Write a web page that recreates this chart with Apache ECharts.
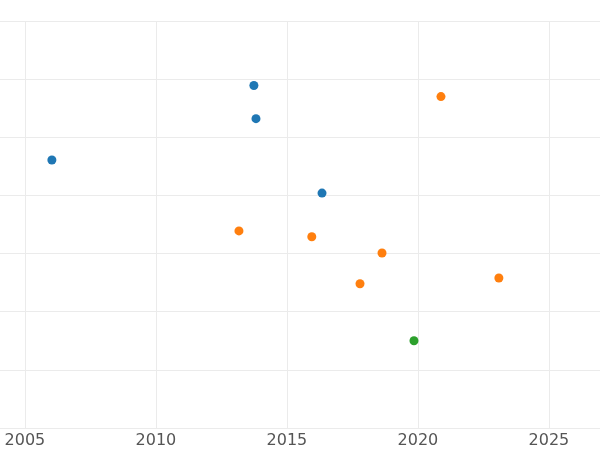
<!DOCTYPE html>
<html>
<head>
<meta charset="utf-8">
<script src="https://cdn.jsdelivr.net/npm/echarts@6/dist/echarts.min.js"></script>
<style>html,body{margin:0;padding:0;background:#fff}#main{width:600px;height:450px}</style>
</head>
<body>
<div id="main"></div>
<script>
// data (y has no labels, unit = one grid step)
var blueX = [2006.03, 2013.74, 2013.82, 2016.34];
var blueY = [4.61, 5.89, 5.32, 4.04];
var orangeX = [2020.88, 2013.17, 2015.95, 2018.63, 2017.79, 2023.09];
var orangeY = [5.70, 3.39, 3.29, 3.01, 2.48, 2.58];
var greenX = [2019.85];
var greenY = [1.50];
var yearTicks = [2005, 2010, 2015, 2020, 2025];

function pairs(xs, ys){
    var out = [];
    for(var i = 0; i < xs.length; i++){
        out.push([xs[i], ys[i]]);
    }
    return out;
}

function makeSeries(xs, ys, color){
    return {
        type: 'scatter',
        symbolSize: 9,
        itemStyle: {color: color, opacity: 1},
        data: pairs(xs, ys)
    };
}

var option = {
    animation: false,
    grid: {left: 0, right: 0, top: 21, bottom: 22},
    xAxis: {
        type: 'value',
        min: 2004.05,
        max: 2026.95,
        axisLine: {show: false},
        axisTick: {show: false, customValues: yearTicks},
        axisLabel: {customValues: yearTicks, color: '#555', fontSize: 16,
            fontFamily: 'DejaVu Sans', margin: 5,
            formatter: function(v){ return String(Math.round(v)); }},
        splitLine: {show: true, lineStyle: {color: '#ebebeb'}}
    },
    yAxis: {
        type: 'value',
        min: 0,
        max: 7,
        interval: 1,
        axisLine: {show: false},
        axisTick: {show: false},
        axisLabel: {show: false},
        splitLine: {show: true, lineStyle: {color: '#ebebeb'}}
    },
    series: [
        makeSeries(blueX, blueY, '#1f77b4'),
        makeSeries(orangeX, orangeY, '#ff7f0e'),
        makeSeries(greenX, greenY, '#2ca02c')
    ]
};
var chart = echarts.init(document.getElementById('main'));
chart.setOption(option);
</script>
</body>
</html>
